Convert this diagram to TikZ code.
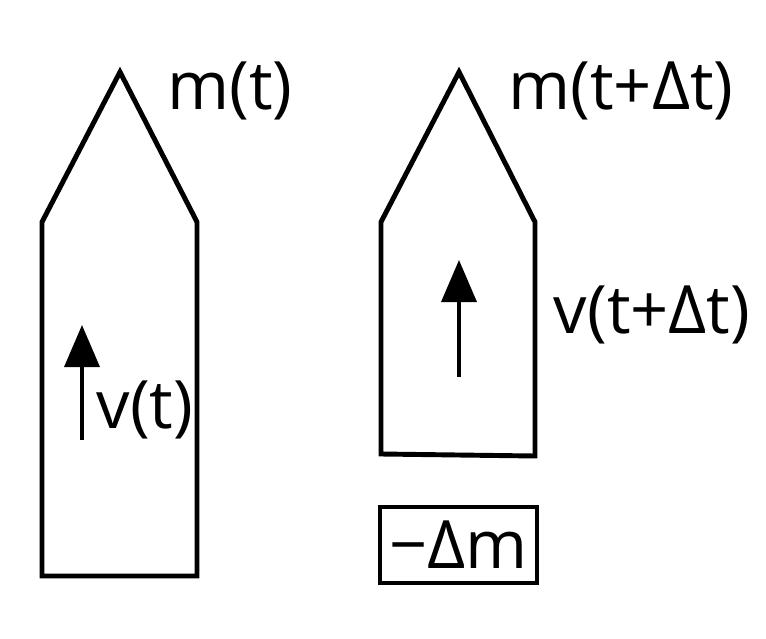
\documentclass[tikz,border=0pt]{standalone}
\usepackage{fontspec}
\setmainfont{Open Sans}
\usetikzlibrary{arrows.meta}
\tikzset{%
  hull/.style   = {line width=2.8pt, line join=miter},%
  vel/.style    = {line width=2.1pt, -{Triangle[length=24pt,width=20pt]}},%
  lbl/.style    = {inner sep=0pt, font=\fontsize{38}{40}\selectfont},%
  chunk/.style  = {draw, line width=2.3pt, inner sep=0pt,%
                   minimum width=3.14cm, minimum height=1.52cm}%
}
\begin{document}
\begin{tikzpicture}[x=0.02cm, y=-0.02cm]
	\useasboundingbox (0,0) rectangle (766,638);
	% rocket at time t
	\draw [hull] (42,576) -- (42,222) -- (120,72) -- (197,222) -- (197,576) -- cycle;
	\coordinate (v1s) at (82,440);
	\coordinate (v1e) at (82,325);
	\draw [vel] (v1s) -- (v1e);
	\node [lbl] (m1) at (230,91) {m(t)};
	\node [lbl] (v1) at (145,410) {v(t)};
	% rocket at time t+dt
	\draw [hull] (381,454) -- (381,222) -- (459,72) -- (535,222) -- (535,456) -- cycle;
	\coordinate (v2s) at (459,377);
	\coordinate (v2e) at (459,260);
	\draw [vel] (v2s) -- (v2e);
	\node [lbl] (m2) at (621,91) {m(t+Δt)};
	\node [lbl] (v2) at (652,315) {v(t+Δt)};
	% ejected mass
	\node [chunk, lbl] (dm) at (458.5,545) {−Δm};
\end{tikzpicture}
\end{document}
